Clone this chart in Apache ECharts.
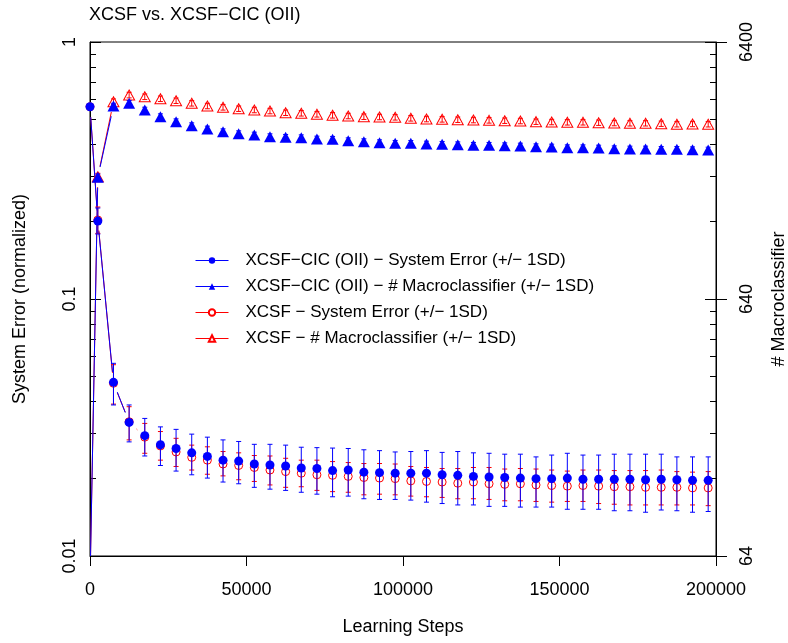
<!DOCTYPE html>
<html>
<head>
<meta charset="utf-8">
<script src="https://cdn.jsdelivr.net/npm/echarts@6/dist/echarts.min.js"></script>
<style>
  html, body { margin: 0; padding: 0; background: #fff; }
  #chart { width: 788px; height: 643px; }
</style>
</head>
<body>
<div id="chart"></div>
<script>
// Learning steps at which the runs were sampled
const steps = [0, 2500, 7500, 12500, 17500, 22500, 27500, 32500, 37500, 42500, 47500,
  52500, 57500, 62500, 67500, 72500, 77500, 82500, 87500, 92500, 97500,
  102500, 107500, 112500, 117500, 122500, 127500, 132500, 137500, 142500, 147500,
  152500, 157500, 162500, 167500, 172500, 177500, 182500, 187500, 192500, 197500];

// XCSF-CIC (OII): normalized system error and its +/- 1SD band ends
const errCic = [0.56, 0.201, 0.0474, 0.0331, 0.0294, 0.0271, 0.0262, 0.0252, 0.0244, 0.0236, 0.0234,
  0.0228, 0.0226, 0.0224, 0.0220, 0.0219, 0.0215, 0.0216, 0.0212, 0.0211, 0.0210,
  0.0210, 0.0210, 0.0207, 0.0206, 0.0204, 0.0203, 0.0202, 0.0201, 0.0200, 0.0200,
  0.0201, 0.0199, 0.0199, 0.0199, 0.0199, 0.0198, 0.0199, 0.0198, 0.0197, 0.0197];
const errCicHi = [null, 0.226, 0.0562, 0.0387, 0.0343, 0.0318, 0.0311, 0.0298, 0.0290, 0.0283, 0.0279,
  0.0272, 0.0272, 0.0270, 0.0265, 0.0264, 0.0263, 0.0262, 0.0259, 0.0257, 0.0254,
  0.0255, 0.0257, 0.0253, 0.0255, 0.0252, 0.0251, 0.0249, 0.0249, 0.0243, 0.0247,
  0.0251, 0.0247, 0.0247, 0.0249, 0.0249, 0.0249, 0.0249, 0.0243, 0.0243, 0.0243];
const errCicLo = [null, 0.179, 0.0387, 0.0278, 0.0245, 0.0225, 0.0214, 0.0207, 0.0201, 0.0194, 0.0191,
  0.0185, 0.0182, 0.0180, 0.0177, 0.0174, 0.0170, 0.0171, 0.0167, 0.0166, 0.0166,
  0.0165, 0.0162, 0.0160, 0.0158, 0.0158, 0.0156, 0.0156, 0.0155, 0.0155, 0.0155,
  0.0152, 0.0152, 0.0152, 0.0150, 0.0150, 0.0148, 0.0151, 0.0150, 0.0148, 0.0149];

// XCSF: normalized system error and its +/- 1SD band ends
const errXcsf = [0.56, 0.203, 0.0470, 0.0333, 0.0290, 0.0268, 0.0254, 0.0242, 0.0236, 0.0228, 0.0225,
  0.0221, 0.0216, 0.0213, 0.0210, 0.0207, 0.0206, 0.0204, 0.0202, 0.0201, 0.0200,
  0.0196, 0.0195, 0.0194, 0.0192, 0.0194, 0.0191, 0.0190, 0.0191, 0.0189, 0.0188,
  0.0187, 0.0188, 0.0187, 0.0186, 0.0186, 0.0185, 0.0185, 0.0185, 0.0184, 0.0184];
const errXcsfHi = [null, 0.228, 0.0555, 0.0381, 0.0328, 0.0305, 0.0287, 0.0270, 0.0266, 0.0255, 0.0252,
  0.0246, 0.0245, 0.0240, 0.0236, 0.0236, 0.0233, 0.0231, 0.0229, 0.0229, 0.0228,
  0.0223, 0.0221, 0.0219, 0.0219, 0.0221, 0.0221, 0.0218, 0.0219, 0.0218, 0.0216,
  0.0214, 0.0216, 0.0216, 0.0215, 0.0215, 0.0215, 0.0216, 0.0213, 0.0212, 0.0213];
const errXcsfLo = [null, 0.180, 0.0390, 0.0283, 0.0251, 0.0236, 0.0223, 0.0216, 0.0208, 0.0205, 0.0198,
  0.0195, 0.0189, 0.0185, 0.0186, 0.0180, 0.0178, 0.0177, 0.0173, 0.0174, 0.0173,
  0.0171, 0.0170, 0.0169, 0.0167, 0.0167, 0.0166, 0.0164, 0.0164, 0.0163, 0.0162,
  0.0163, 0.0163, 0.0160, 0.0159, 0.0158, 0.0158, 0.0158, 0.0158, 0.0158, 0.0157];

// Population size (# macroclassifiers) and its standard deviation
const macroCic = [50, 1904, 3607, 3695, 3480, 3278, 3134, 3023, 2935, 2865, 2814,
  2781, 2740, 2725, 2715, 2684, 2677, 2643, 2620, 2596, 2582,
  2582, 2566, 2559, 2550, 2537, 2537, 2528, 2521, 2505, 2499,
  2483, 2483, 2477, 2461, 2455, 2455, 2448, 2448, 2439, 2433];
const macroCicSd = [0, 55, 90, 92, 88, 84, 80, 78, 76, 74, 73,
  72, 71, 70, 70, 69, 69, 68, 68, 67, 67,
  66, 66, 66, 65, 65, 65, 64, 64, 64, 63,
  63, 63, 62, 62, 62, 62, 61, 61, 61, 61];
const macroXcsf = [50, 1914, 3748, 3979, 3919, 3849, 3782, 3695, 3607, 3565, 3521,
  3480, 3448, 3396, 3379, 3348, 3319, 3298, 3278, 3269, 3260,
  3231, 3210, 3201, 3190, 3181, 3172, 3162, 3153, 3134, 3125,
  3117, 3117, 3106, 3097, 3089, 3089, 3078, 3062, 3070, 3062];
const macroXcsfSd = [0, 60, 95, 100, 98, 95, 92, 90, 88, 88, 86,
  85, 84, 84, 83, 82, 82, 81, 81, 80, 80,
  80, 79, 79, 78, 78, 78, 77, 77, 76, 76,
  76, 75, 75, 75, 74, 74, 74, 73, 73, 73];

// Axis tick values
const xTicks = [0, 50000, 100000, 150000, 200000];
const errTicks = [0.01, 0.1, 1];
const errMinorTicks = [0.02, 0.03, 0.04, 0.05, 0.06, 0.07, 0.08, 0.09,
  0.2, 0.3, 0.4, 0.5, 0.6, 0.7, 0.8, 0.9];
const macroTicks = [64, 640, 6400];
const macroMinorTicks = [128, 192, 256, 320, 384, 448, 512, 576,
  1280, 1920, 2560, 3200, 3840, 4480, 5120, 5760];

const NAMES = {
  errCic: 'XCSF\u2212CIC (OII) \u2212 System Error (+/\u2212 1SD)',
  macroCic: 'XCSF\u2212CIC (OII) \u2212 # Macroclassifier (+/\u2212 1SD)',
  errXcsf: 'XCSF \u2212 System Error (+/\u2212 1SD)',
  macroXcsf: 'XCSF \u2212 # Macroclassifier (+/\u2212 1SD)'
};
const BLUE = '#0000ff';
const RED = '#ff0000';
const FONT = '"Liberation Sans", Arial, Helvetica, sans-serif';
const GAP = 10.5;   // empty space left around each marker on connecting lines
const CAP = 2.5;    // half width of error bar caps

function pairs(ys) {
  return steps.map((x, i) => [x, ys[i]]);
}
function segments(ys) {
  const out = [];
  for (let i = 1; i < steps.length; i++) out.push([steps[i - 1], ys[i - 1], steps[i], ys[i]]);
  return out;
}
function bars(lo, hi) {
  const out = [];
  steps.forEach((x, i) => { if (lo[i] != null && hi[i] != null) out.push([x, lo[i], hi[i]]); });
  return out;
}
function sdBars(ys, sd) {
  const out = [];
  steps.forEach((x, i) => { if (sd[i] > 0) out.push([x, ys[i] - sd[i], ys[i] + sd[i]]); });
  return out;
}

// connecting lines, interrupted near each marker
function gapLineSeries(ys, yAxisIndex, color, z) {
  return {
    type: 'custom', yAxisIndex, z, clip: true, silent: true,
    encode: { x: [0, 2], y: [1, 3] },
    data: segments(ys),
    renderItem(params, api) {
      const a = api.coord([api.value(0), api.value(1)]);
      const b = api.coord([api.value(2), api.value(3)]);
      const dx = b[0] - a[0], dy = b[1] - a[1];
      const len = Math.hypot(dx, dy);
      if (len <= 2 * GAP) return null;
      const ux = dx / len, uy = dy / len;
      return {
        type: 'line',
        shape: { x1: a[0] + ux * GAP, y1: a[1] + uy * GAP, x2: b[0] - ux * GAP, y2: b[1] - uy * GAP },
        style: { stroke: color, lineWidth: 1 }
      };
    }
  };
}

function errorBarSeries(data, yAxisIndex, color, z) {
  return {
    type: 'custom', yAxisIndex, z, clip: true, silent: true,
    encode: { x: 0, y: [1, 2] },
    data,
    renderItem(params, api) {
      const x = api.value(0);
      const p1 = api.coord([x, api.value(1)]);
      const p2 = api.coord([x, api.value(2)]);
      const st = { stroke: color, lineWidth: 1 };
      return {
        type: 'group',
        children: [
          { type: 'line', shape: { x1: p1[0], y1: p1[1], x2: p2[0], y2: p2[1] }, style: st },
          { type: 'line', shape: { x1: p1[0] - CAP, y1: p1[1], x2: p1[0] + CAP, y2: p1[1] }, style: st },
          { type: 'line', shape: { x1: p2[0] - CAP, y1: p2[1], x2: p2[0] + CAP, y2: p2[1] }, style: st }
        ]
      };
    }
  };
}

// markers only; the connecting lines come from gapLineSeries
function markerSeries(name, ys, yAxisIndex, color, symbol, size, hollow, z) {
  return {
    name, type: 'line', yAxisIndex, z, clip: true,
    data: pairs(ys),
    symbol, symbolSize: size, showAllSymbol: true,
    lineStyle: { color, width: 1, opacity: 0 },
    itemStyle: hollow
      ? { color: '#fff', borderColor: color, borderWidth: 1 }
      : { color, borderColor: color, borderWidth: 0 },
    emphasis: { disabled: true },
    animation: false
  };
}

const axisText = { color: '#000', fontSize: 18, fontFamily: FONT };
const blackLine = { color: '#000', width: 1 };

const chart = echarts.init(document.getElementById('chart'), null, { renderer: 'canvas' });
chart.setOption({
  animation: false,
  backgroundColor: '#fff',
  textStyle: { fontFamily: FONT, color: '#000' },
  title: {
    text: 'XCSF vs. XCSF\u2212CIC (OII)',
    left: 89, top: 6, padding: 0,
    textStyle: { fontSize: 18, fontWeight: 'normal', color: '#000', fontFamily: FONT }
  },
  grid: {
    left: 90, right: 72, top: 42, bottom: 87,
    show: true, borderColor: '#000', borderWidth: 1, backgroundColor: 'transparent',
    outerBoundsMode: 'none', containLabel: false
  },
  legend: {
    orient: 'vertical', left: 195, top: 252, padding: 0,
    itemWidth: 33, itemHeight: 8, itemGap: 9,
    selectedMode: false,
    textStyle: { fontSize: 17, color: '#000', fontFamily: FONT, padding: [0, 0, 0, 12] },
    lineStyle: { opacity: 1, width: 1 },
    data: [NAMES.errCic, NAMES.macroCic, NAMES.errXcsf, NAMES.macroXcsf]
  },
  xAxis: {
    type: 'value', min: 0, max: 200000, interval: 50000, position: 'bottom',
    axisLine: { show: true, lineStyle: blackLine },
    axisTick: { show: true, inside: false, length: 10, lineStyle: blackLine, customValues: xTicks },
    axisLabel: Object.assign({ margin: 25, showMinLabel: true, showMaxLabel: true, customValues: xTicks,
      formatter: v => String(Math.round(v)) }, axisText),
    splitLine: { show: false },
    name: 'Learning Steps', nameLocation: 'middle', nameGap: 62, nameMoveOverlap: false,
    nameTextStyle: axisText
  },
  yAxis: [
    {
      type: 'log', logBase: 10, min: 0.01, max: 1, position: 'left',
      axisLine: { show: true, lineStyle: blackLine },
      axisTick: { show: true, inside: true, length: 11, lineStyle: blackLine, customValues: errTicks },
      axisLabel: Object.assign({ margin: 11, rotate: 90, customValues: errTicks, showMinLabel: true, showMaxLabel: true,
        formatter: v => String(+Number(v).toPrecision(6)) }, axisText),
      splitLine: { show: false }, minorTick: { show: false },
      name: 'System Error (normalized)', nameLocation: 'middle', nameGap: 61, nameRotate: 90, nameMoveOverlap: false,
      nameTextStyle: axisText
    },
    {
      type: 'log', logBase: 10, min: 64, max: 6400, position: 'right',
      axisLine: { show: true, lineStyle: blackLine },
      axisTick: { show: true, inside: false, length: 11, lineStyle: blackLine, customValues: macroTicks },
      axisLabel: Object.assign({ margin: 22, rotate: 90, customValues: macroTicks, showMinLabel: true, showMaxLabel: true,
        formatter: v => String(Math.round(v)) }, axisText),
      splitLine: { show: false }, minorTick: { show: false },
      name: '# Macroclassifier', nameLocation: 'middle', nameGap: 54, nameRotate: 90, nameMoveOverlap: false,
      nameTextStyle: axisText
    },
    {
      type: 'log', logBase: 10, min: 0.01, max: 1, position: 'left',
      axisLine: { show: false }, axisLabel: { show: false }, splitLine: { show: false },
      axisTick: { show: true, inside: true, length: 6, lineStyle: blackLine, customValues: errMinorTicks }
    },
    {
      type: 'log', logBase: 10, min: 64, max: 6400, position: 'right',
      axisLine: { show: false }, axisLabel: { show: false }, splitLine: { show: false },
      axisTick: { show: true, inside: true, length: 11, lineStyle: blackLine, customValues: macroTicks }
    },
    {
      type: 'log', logBase: 10, min: 64, max: 6400, position: 'right',
      axisLine: { show: false }, axisLabel: { show: false }, splitLine: { show: false },
      axisTick: { show: true, inside: true, length: 6, lineStyle: blackLine, customValues: macroMinorTicks }
    }
  ],
  series: [
    gapLineSeries(errXcsf, 0, RED, 1),
    gapLineSeries(macroXcsf, 1, RED, 1),
    gapLineSeries(errCic, 0, BLUE, 1),
    gapLineSeries(macroCic, 1, BLUE, 1),
    markerSeries(NAMES.errXcsf, errXcsf, 0, RED, 'circle', 8, true, 2),
    markerSeries(NAMES.macroXcsf, macroXcsf, 1, RED, 'triangle', [11, 10], true, 2),
    errorBarSeries(bars(errXcsfLo, errXcsfHi), 0, RED, 3),
    errorBarSeries(sdBars(macroXcsf, macroXcsfSd), 1, RED, 3),
    errorBarSeries(bars(errCicLo, errCicHi), 0, BLUE, 4),
    errorBarSeries(sdBars(macroCic, macroCicSd), 1, BLUE, 4),
    markerSeries(NAMES.errCic, errCic, 0, BLUE, 'circle', 9, false, 5),
    markerSeries(NAMES.macroCic, macroCic, 1, BLUE, 'triangle', [12, 11], false, 5)
  ]
});
</script>
</body>
</html>
